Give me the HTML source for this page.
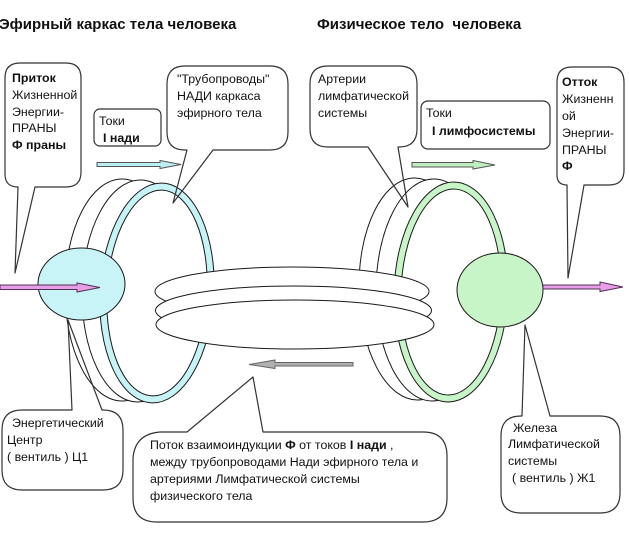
<!DOCTYPE html>
<html>
<head>
<meta charset="utf-8">
<style>
html,body{margin:0;padding:0;background:#fff;}
svg{display:block;}
text{font-family:"Liberation Sans", Arial, "DejaVu Sans", sans-serif;fill:#111;}
.t{font-size:12.4px;}
.h{font-size:15px;font-weight:bold;}
.b{font-weight:bold;}
</style>
</head>
<body>
<svg width="629" height="540" viewBox="0 0 629 540" xmlns="http://www.w3.org/2000/svg">
<rect width="629" height="540" fill="#fff"/>

<!-- titles -->
<text class="h" x="-1" y="29">Эфирный каркас тела человека</text>
<text class="h" x="317" y="29" xml:space="preserve">Физическое тело  человека</text>

<!-- left ring assembly -->
<g stroke="#1a1a1a" stroke-width="1">
  <ellipse cx="122" cy="290" rx="57" ry="111" fill="#fff"/>
  <ellipse cx="139" cy="291" rx="57" ry="111" transform="rotate(1 139 291)" fill="#fff"/>
  <ellipse cx="157" cy="293" rx="57" ry="110" transform="rotate(3 157 293)" fill="#c6f3f6"/>
  <ellipse cx="157" cy="293" rx="50" ry="103" transform="rotate(3 157 293)" fill="#fff"/>
</g>

<!-- right ring assembly -->
<g stroke="#1a1a1a" stroke-width="1">
  <ellipse cx="416" cy="289" rx="57" ry="111" transform="rotate(-1 416 289)" fill="#fff"/>
  <ellipse cx="433" cy="290" rx="57" ry="111" transform="rotate(0.5 433 290)" fill="#fff"/>
  <ellipse cx="451" cy="292" rx="57" ry="110" transform="rotate(2 451 292)" fill="#c8f5c8"/>
  <ellipse cx="451" cy="292" rx="50" ry="103" transform="rotate(2 451 292)" fill="#fff"/>
</g>

<!-- central disk stack -->
<g stroke="#1a1a1a" stroke-width="1" fill="#fff">
  <ellipse cx="292" cy="291.5" rx="137" ry="24.5"/>
  <ellipse cx="293.5" cy="310.5" rx="138" ry="24.5"/>
  <ellipse cx="295" cy="324.5" rx="139" ry="24.5"/>
</g>

<!-- energy centers -->
<ellipse cx="81.5" cy="284" rx="43.5" ry="36" fill="#c8f3f7" stroke="#1a1a1a" stroke-width="1"/>
<ellipse cx="500" cy="290" rx="43" ry="37" fill="#c8f5c8" stroke="#1a1a1a" stroke-width="1"/>

<!-- arrows -->
<polygon points="0,285 77,285 77,283 100,287.5 77,292 77,289.5 0,289.5" fill="#e79ee7" stroke="#503050" stroke-width="1"/>
<polygon points="543,285 600,285 600,282 623,287 600,291.5 600,289 543,289" fill="#e79ee7" stroke="#503050" stroke-width="1"/>
<polygon points="97,162.5 160,162.5 160,160.5 181,164.5 160,168.5 160,166.5 97,166.5" fill="#b9eef2" stroke="#555" stroke-width="1"/>
<polygon points="412,162.5 473,162.5 473,160.5 495,165 473,169 473,167 412,167" fill="#c0eec0" stroke="#555" stroke-width="1"/>
<polygon points="353,362.5 275,362.5 275,360 249,364.5 275,368.5 275,366 353,366" fill="#b0b0b0" stroke="#666" stroke-width="1"/>

<!-- callouts -->
<g fill="none" stroke="#333" stroke-width="1.2" stroke-linejoin="round">
  <path d="M20,63 H66 Q81,63 81,78 V172 Q81,187 66,187 H35 L15,273 L18,187 Q5,187 5,174 V78 Q5,63 20,63 Z"/>
  <rect x="94" y="109" width="67" height="37" rx="6" ry="6"/>
  <path d="M185,66 H270 Q288,66 288,84 V132 Q288,150 270,150 H213 L173,203 L187,150 H185 Q167,150 167,132 V84 Q167,66 185,66 Z"/>
  <path d="M328,66 H399 Q417,66 417,84 V129 Q417,147 399,147 H398 L408,207 L368,147 H328 Q310,147 310,129 V84 Q310,66 328,66 Z"/>
  <rect x="421" y="101" width="129" height="48" rx="7" ry="7"/>
  <path d="M572,67 H609 Q624,67 624,82 V170 Q624,185 609,185 H584 L568,278 L567,185 Q557,185 557,175 V82 Q557,67 572,67 Z"/>
  <path d="M22,410 H72 L68,320 L102,410 H103 Q123,410 123,430 V470 Q123,490 103,490 H22 Q2,490 2,470 V430 Q2,410 22,410 Z"/>
  <path d="M160,432 H187 L253,377 L263,432 H423 Q447,432 447,456 V498 Q447,522 423,522 H157 Q133,522 133,498 V458 Q135,434 160,432 Z"/>
  <path d="M521,416 H522 L525,325 L550,416 H600 Q620,416 620,436 V493 Q620,513 600,513 H521 Q501,513 501,493 V436 Q501,416 521,416 Z"/>
</g>

<!-- callout texts -->
<g class="t">
  <text x="12" y="82" class="b">Приток</text>
  <text x="12" y="99">Жизненной</text>
  <text x="12" y="116">Энергии-</text>
  <text x="12" y="132">ПРАНЫ</text>
  <text x="12" y="149" class="b">Ф праны</text>

  <text x="99" y="125">Токи</text>
  <text x="103" y="142" class="b">I нади</text>

  <text x="177" y="83">"Трубопроводы"</text>
  <text x="177" y="100">НАДИ каркаса</text>
  <text x="177" y="117">эфирного тела</text>

  <text x="318" y="83">Артерии</text>
  <text x="318" y="100">лимфатической</text>
  <text x="318" y="117">системы</text>

  <text x="426" y="117">Токи</text>
  <text x="432" y="135" class="b">I лимфосистемы</text>

  <text x="562" y="86" class="b">Отток</text>
  <text x="562" y="103">Жизненн</text>
  <text x="562" y="120">ой</text>
  <text x="562" y="137">Энергии-</text>
  <text x="562" y="154">ПРАНЫ</text>
  <text x="562" y="170" class="b">Ф</text>

  <text x="12" y="427">Энергетический</text>
  <text x="7" y="444">Центр</text>
  <text x="7" y="461">( вентиль ) Ц1</text>

  <text x="150" y="449">Поток взаимоиндукции <tspan class="b">Ф</tspan> от токов <tspan class="b">I нади</tspan> ,</text>
  <text x="150" y="466">между трубопроводами Нади эфирного тела и</text>
  <text x="150" y="483">артериями Лимфатической системы</text>
  <text x="150" y="500">физического тела</text>

  <text x="513" y="432">Железа</text>
  <text x="508" y="448">Лимфатической</text>
  <text x="508" y="465">системы</text>
  <text x="512" y="482">( вентиль ) Ж1</text>
</g>
</svg>
</body>
</html>
